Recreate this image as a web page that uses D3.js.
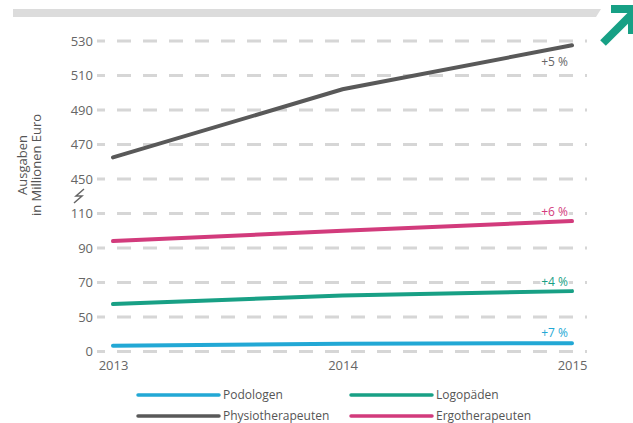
<!DOCTYPE html>
<html>
<head>
<meta charset="utf-8">
<script src="https://cdn.jsdelivr.net/npm/d3@7"></script>
<style>
  body { margin: 0; background: #fff; }
  svg { display: block; font-family: "Open Sans", sans-serif; }
</style>
</head>
<body>
<div id="chart"></div>
<script>
// data
const years = ["2013", "2014", "2015"];
const yTicks = [0, 50, 70, 90, 110, 450, 470, 490, 510, 530];
const podologen = [8.5, 11.2, 12];
const logopaeden = [57.5, 62.5, 65];
const physio = [462.5, 502, 527.5];
const ergo = [94, 100, 105.6];
const changes = ["+7 %", "+4 %", "+5 %", "+6 %"];
const seriesNames = ["Podologen", "Logopäden", "Physiotherapeuten", "Ergotherapeuten"];

const W = 633, H = 423;
const colors = {
  Podologen: "#22a8d5",
  "Logopäden": "#18a085",
  Physiotherapeuten: "#595959",
  Ergotherapeuten: "#d23b7c"
};

const series = [
  { name: "Podologen", values: podologen, label: changes[0], dy: -6 },
  { name: "Logopäden", values: logopaeden, label: changes[1], dy: -5 },
  { name: "Physiotherapeuten", values: physio, label: changes[2], dy: 21 },
  { name: "Ergotherapeuten", values: ergo, label: changes[3], dy: -5 }
];

const svg = d3.select("#chart").append("svg")
  .attr("width", W).attr("height", H);

// piecewise y scale (axis is broken between 110 and 450)
const yBottom = 351.5, step = 34.5;
const y = d3.scaleLinear()
  .domain(yTicks)
  .range(yTicks.map((d, i) => yBottom - i * step));

const x = d3.scalePoint()
  .domain(years)
  .range([113, 572]);

// top decoration bar + arrow
svg.append("path")
  .attr("d", "M13,9 L601,9 L596,17 L13,17 Z")
  .attr("fill", "#dcdcdc");

const arrow = svg.append("g")
  .attr("fill", "none")
  .attr("stroke", "#17a085")
  .attr("stroke-width", 8);
arrow.append("line")
  .attr("x1", 603).attr("y1", 43).attr("x2", 634).attr("y2", 12);
arrow.append("path")
  .attr("d", "M611,9 L636,9 M632,5 L632,34");

// gridlines
const grid = svg.append("g");
grid.selectAll("line")
  .data(yTicks)
  .join("line")
  .attr("x1", 97).attr("x2", 587)
  .attr("y1", d => y(d)).attr("y2", d => y(d))
  .attr("stroke", "#d6d6d6")
  .attr("stroke-width", 3)
  .attr("stroke-dasharray", "8,12,14,12,14,12,14,12,14,12,14,12,14,12,14,12,14,12,14,12,14,12,14,12,14,12,14,12,14,12,14,12,14,12,14,12,14,12,14,12,14,12,14,12");

// y axis tick labels
const yAxis = svg.append("g")
  .attr("transform", "translate(93,0)")
  .call(d3.axisLeft(y).tickValues(yTicks).tickSize(0).tickPadding(0));
yAxis.select(".domain").remove();
yAxis.selectAll("text")
  .style("font-family", "Open Sans, sans-serif")
  .style("font-size", "13px")
  .attr("fill", "#666");

// break symbol
svg.append("path")
  .attr("d", "M84,189 L76,196 L82,196 L74,203")
  .attr("fill", "none")
  .attr("stroke", "#666")
  .attr("stroke-width", 1.5);

// x axis labels
const xAxis = svg.append("g")
  .attr("transform", "translate(0,370)")
  .call(d3.axisBottom(x).tickSize(0).tickPadding(0));
xAxis.select(".domain").remove();
xAxis.selectAll("text")
  .style("font-family", "Open Sans, sans-serif")
  .style("font-size", "13px")
  .attr("fill", "#666")
  .attr("dy", "0");

// y title
const yt = svg.append("text")
  .attr("transform", "translate(27,165) rotate(-90)")
  .attr("text-anchor", "middle")
  .style("font-size", "13px")
  .attr("fill", "#555");
yt.append("tspan").attr("x", 0).attr("dy", 0).text("Ausgaben");
yt.append("tspan").attr("x", 0).attr("dy", 14).text("in Millionen Euro");

// lines
const line = d3.line()
  .x((d, i) => x(years[i]))
  .y(d => y(d));

svg.append("g").selectAll("path")
  .data(series)
  .join("path")
  .attr("d", d => line(d.values))
  .attr("fill", "none")
  .attr("stroke", d => colors[d.name])
  .attr("stroke-width", 4)
  .attr("stroke-linecap", "round");

// change labels (white halo to break the gridlines)
svg.append("g").selectAll("text")
  .data(series)
  .join("text")
  .attr("x", x(years[2]) - 4)
  .attr("y", d => y(d.values[2]) + d.dy)
  .attr("text-anchor", "end")
  .style("font-size", "12px")
  .style("paint-order", "stroke")
  .attr("stroke", "#fff")
  .attr("stroke-width", 3)
  .attr("fill", d => d.name === "Physiotherapeuten" ? "#666" : colors[d.name])
  .text(d => d.label);

// legend
const legendPos = [
  { x: 138, y: 395 }, { x: 351, y: 395 },
  { x: 138, y: 416 }, { x: 351, y: 416 }
];
const legend = svg.append("g").selectAll("g")
  .data(seriesNames)
  .join("g")
  .attr("transform", (d, i) => `translate(${legendPos[i].x},${legendPos[i].y})`);
legend.append("line")
  .attr("x1", 0).attr("x2", 81)
  .attr("stroke", d => colors[d])
  .attr("stroke-width", 3.5)
  .attr("stroke-linecap", "round");
legend.append("text")
  .attr("x", 85).attr("dy", "0.35em")
  .style("font-size", "12px")
  .attr("fill", "#555")
  .text(d => d);
</script>
</body>
</html>
